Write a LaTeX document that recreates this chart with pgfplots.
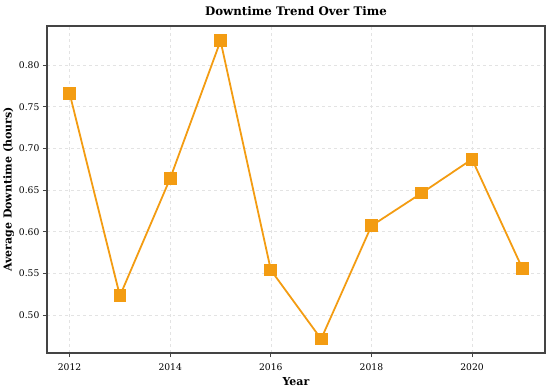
\documentclass[border=0pt]{standalone}
\usepackage{pgfplots}
\pgfplotsset{compat=1.18}
\usepackage{fontspec}
\setmainfont{DejaVu Serif}
\definecolor{lineor}{HTML}{F39C12}
\definecolor{framec}{HTML}{444444}
\begin{document}
\begin{tikzpicture}
\begin{axis}[
  scale only axis,
  width=498bp, height=327bp,
  xmin=2011.55, xmax=2021.45,
  ymin=0.4544, ymax=0.8468,
  xtick={2012,2014,2016,2018,2020},
  ytick={0.50,0.55,0.60,0.65,0.70,0.75,0.80},
  xticklabel style={/pgf/number format/1000 sep={}, yshift=-3bp},
  yticklabel style={/pgf/number format/fixed,/pgf/number format/fixed zerofill,/pgf/number format/precision=2},
  /pgf/number format/assume math mode=true,
  ticklabel style={font=\fontsize{9.2bp}{10bp}\selectfont, color=black},
  tick align=outside,
  tick pos=left,
  major tick length=4bp,
  tick style={framec, line width=0.8bp},
  axis line style={framec, line width=1.1bp},
  grid=major,
  grid style={dashed, gray!22, line width=0.5bp},
  title={\textbf{Downtime Trend Over Time}},
  title style={font=\fontsize{11.8bp}{14bp}\selectfont, yshift=1bp},
  xlabel={\textbf{Year}},
  ylabel={\textbf{Average Downtime (hours)}},
  label style={font=\fontsize{11bp}{13bp}\selectfont},
  xlabel style={yshift=0bp},
  ylabel style={yshift=-2bp},
]
\addplot[color=lineor, line width=1.8bp, mark=square*, mark size=5.5bp, mark options={solid, fill=lineor, draw=lineor}]
coordinates {
(2012,0.766) (2013,0.523) (2014,0.664) (2015,0.829) (2016,0.554)
(2017,0.4712) (2018,0.607) (2019,0.6464) (2020,0.687) (2021,0.556)
};
\end{axis}
\path (current axis.east) ++(5bp,0);
\path (current axis.north) ++(0,26bp);
\path (current axis.south) ++(0,-37bp);
\end{tikzpicture}
\end{document}
